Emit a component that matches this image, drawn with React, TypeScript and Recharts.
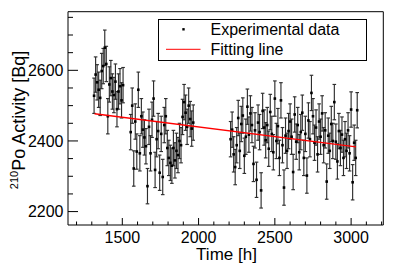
import { ErrorBar, Legend, ReferenceArea, Scatter, ScatterChart, XAxis, YAxis } from 'recharts';

// Po-210 activity, sampled every 10 h in three runs
const stepHours = 10;
const run1Start = 1315;
const run2Start = 1555;
const run3Start = 2210;

const run1Activity = [
  2528, 2588, 2566, 2545, 2522, 2598, 2612, 2664, 2618, 2470,
  2560, 2578, 2540, 2530, 2568, 2490, 2540, 2555, 2515, 2558,
];
const run2Activity = [
  2425, 2500, 2322, 2455, 2370, 2545, 2365, 2470, 2432, 2410,
  2385, 2272, 2440, 2365, 2460, 2520, 2318, 2405, 2428, 2310,
  2420, 2298, 2445, 2470, 2380, 2352, 2338, 2330, 2380, 2345,
  2372, 2360, 2400, 2388, 2468, 2510, 2480, 2440, 2500, 2462,
  2435, 2452,
];
const run3Activity = [
  2405, 2432, 2362, 2326, 2388, 2465, 2372, 2448, 2472, 2358,
  2412, 2497, 2418, 2478, 2445, 2335, 2430, 2290, 2452, 2425,
  2260, 2485, 2438, 2402, 2445, 2378, 2482, 2420, 2368, 2520,
  2400, 2442, 2352, 2515, 2388, 2268, 2415, 2372, 2428, 2455,
  2412, 2312, 2475, 2398, 2445, 2368, 2425, 2480, 2352, 2420,
  2302, 2458, 2405, 2536, 2470, 2395, 2438, 2362, 2455, 2412,
  2478, 2388, 2430, 2285, 2415, 2372, 2448, 2400, 2510, 2398,
  2342, 2428, 2380, 2418, 2352, 2405, 2372, 2430, 2365, 2489,
  2283, 2395, 2352, 2487,
];
const activityError = 50;

const fitTime = [1318, 3032];
const fitActivity = [2477, 2383];

const xTicks = [
  1200, 1300, 1400, 1500, 1600, 1700, 1800, 1900, 2000, 2100, 2200,
  2300, 2400, 2500, 2600, 2700, 2800, 2900, 3000, 3100, 3200,
];
const xLabelTicks = [1500, 2000, 2500, 3000];
const yTicks = [2200, 2250, 2300, 2350, 2400, 2450, 2500, 2550, 2600, 2650, 2700, 2750];
const yLabelTicks = [2200, 2400, 2600];

const xDomain = [1144, 3211];
const yDomain = [2162, 2766];

const FONT = '"Liberation Sans", Arial, Helvetica, sans-serif';

const toRows = (start: number, values: number[]) =>
  values.map((v, i) => ({ time: start + i * stepHours, activity: v, err: activityError }));

const measured = [
  ...toRows(run1Start, run1Activity),
  ...toRows(run2Start, run2Activity),
  ...toRows(run3Start, run3Activity),
];
const fitRows = fitTime.map((t, i) => ({ time: t, activity: fitActivity[i] }));

function XTick(props: any) {
  const { x, y, payload } = props;
  const major = xLabelTicks.includes(payload.value);
  return (
    <g>
      <line x1={x} x2={x} y1={y} y2={y - (major ? 7 : 3.5)} stroke="#000" />
      {major && (
        <text x={x} y={y + 18} textAnchor="middle" fontSize={16} fill="#000" fontFamily={FONT}>
          {payload.value}
        </text>
      )}
    </g>
  );
}

function YTick(props: any) {
  const { x, y, payload } = props;
  const major = yLabelTicks.includes(payload.value);
  return (
    <g>
      <line x1={x} x2={x + (major ? 10 : 5)} y1={y} y2={y} stroke="#000" />
      {major && (
        <text x={x - 4.5} y={y} dy="0.36em" textAnchor="end" fontSize={16} fill="#000" fontFamily={FONT}>
          {payload.value}
        </text>
      )}
    </g>
  );
}

function Dot(props: any) {
  const { cx, cy } = props;
  return <rect x={cx - 1.3} y={cy - 1.3} width={2.6} height={2.6} fill="#000" />;
}

function LegendBox() {
  return (
    <svg width={209} height={42} style={{ display: 'block', fontFamily: FONT }}>
      <rect x={0.5} y={0.5} width={208} height={41} fill="#fff" stroke="#000" />
      <rect x={24.3} y={9.1} width={2.4} height={2.4} fill="#000" />
      <text x={52.5} y={15.5} fontSize={16} fill="#000">
        Experimental data
      </text>
      <line x1={8} x2={42.5} y1={30.3} y2={30.3} stroke="#ff0000" />
      <text x={52.5} y={35.5} fontSize={16} fill="#000">
        Fitting line
      </text>
    </svg>
  );
}

export default function App() {
  return (
    <div style={{ width: 394, height: 268, fontFamily: FONT }}>
      <style>{'body{margin:0}'}</style>
      <ScatterChart width={394} height={268} margin={{ top: 11.7, right: 10.7, bottom: 0, left: 0 }}>
        <XAxis
          dataKey="time"
          type="number"
          domain={xDomain}
          allowDataOverflow
          ticks={xTicks}
          interval={0}
          tick={XTick}
          tickLine={false}
          axisLine={false}
          tickSize={0}
          tickMargin={0}
          height={43}
          label={{
            content: () => (
              <text x={226.5} y={260} textAnchor="middle" fontSize={17} fill="#000" fontFamily={FONT}>
                Time [h]
              </text>
            ),
          }}
        />
        <YAxis
          dataKey="activity"
          type="number"
          domain={yDomain}
          allowDataOverflow
          ticks={yTicks}
          interval={0}
          tick={YTick}
          tickLine={false}
          axisLine={false}
          tickSize={0}
          tickMargin={0}
          width={68}
          label={{
            content: () => (
              <text transform="translate(25,120) rotate(-90)" textAnchor="middle" fontSize={18} fill="#000" fontFamily={FONT}>
                <tspan fontSize={11} dy={-7}>210</tspan>
                <tspan dy={7}>Po Activity [Bq]</tspan>
              </text>
            ),
          }}
        />
        <ReferenceArea
          x1={xDomain[0]}
          x2={xDomain[1]}
          y1={yDomain[0]}
          y2={yDomain[1]}
          fill="none"
          stroke="#000"
          strokeWidth={1}
          ifOverflow="visible"
        />
        <Scatter data={measured} shape={Dot} isAnimationActive={false} legendType="none">
          <ErrorBar dataKey="err" direction="y" width={1.8} stroke="#2e2e2e" strokeWidth={1.15} isAnimationActive={false} />
        </Scatter>
        <Scatter
          data={fitRows}
          line={{ stroke: '#ff0000', strokeWidth: 1.3 }}
          shape={() => <g />}
          isAnimationActive={false}
          legendType="none"
        />
        <Legend
          layout="vertical"
          align="center"
          verticalAlign="middle"
          width={209}
          height={42}
          content={() => <LegendBox />}
          wrapperStyle={{ left: 157.5, top: 19, width: 209, height: 42 }}
        />
      </ScatterChart>
    </div>
  );
}
